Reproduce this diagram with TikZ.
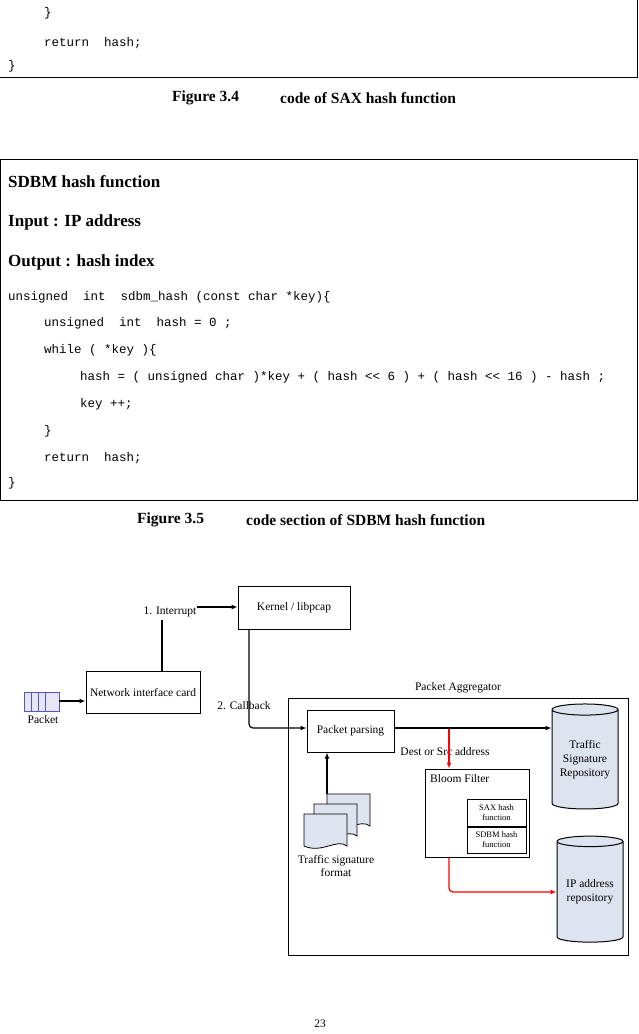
\documentclass[tikz,border=0pt]{standalone}
\usepackage{fontspec}
\setmainfont{Liberation Serif}
\setmonofont{Liberation Mono}
\usetikzlibrary{shapes.geometric,arrows.meta}
\definecolor{fillb}{HTML}{DDE3EF}
\definecolor{pk}{HTML}{5555BB}
\begin{document}
\begin{tikzpicture}[x=1pt,y=-1pt,
  code/.style={anchor=west,inner sep=0,font=\ttfamily\fontsize{12.5}{13}\selectfont},
  head/.style={anchor=west,inner sep=0,font=\bfseries\fontsize{17}{18}\selectfont},
  figcap/.style={anchor=west,inner sep=0,font=\bfseries\fontsize{15.5}{16}\selectfont},
  lbl/.style={inner sep=0,font=\fontsize{11.5}{13}\selectfont,align=center},
  small/.style={inner sep=0,font=\fontsize{8.5}{10}\selectfont,align=center},
  bx/.style={draw,line width=1pt},
  cyl/.style={draw,cylinder,shape border rotate=90,aspect=0.22,fill=fillb,line width=1pt,align=center,font=\fontsize{11.5}{14}\selectfont,inner sep=0},
  arr/.style={-{Latex[length=6pt,width=5pt]},line width=1.2pt},
  rarr/.style={-{Latex[length=6pt,width=5pt]},line width=1.2pt,red},
]
\useasboundingbox (0,0) rectangle (639,1034);
% top code box
\draw[line width=1pt] (0,77) -- (637,77) -- (637,-5);
\node[code] (t1) at (44,13) {\}};
\node[code] (t2) at (44,43) {return\ \ hash;};
\node[code] (t3) at (8,66) {\}};
\node[figcap] (c1a) at (172,98) {Figure 3.4};
\node[figcap] (c1b) at (280,98) {code of SAX hash function};
% second box
\draw[line width=1pt] (0,159) rectangle (637,500);
\node[head] (h1) at (8,182) {SDBM hash function};
\node[head] (h2) at (8,222) {Input : IP address};
\node[head] (h3) at (8,262) {Output : hash index};
\node[code] (l1) at (8,297) {unsigned\ \ int\ \ sdbm\_hash (const char *key)\{};
\node[code] (l2) at (44,323) {unsigned\ \ int\ \ hash = 0 ;};
\node[code] (l3) at (44,350) {while ( *key )\{};
\node[code] (l4) at (80,377) {hash = ( unsigned char )*key + ( hash << 6 ) + ( hash << 16 ) - hash ;};
\node[code] (l5) at (80,404) {key ++;};
\node[code] (l6) at (44,431) {\}};
\node[code] (l7) at (44,458) {return\ \ hash;};
\node[code] (l8) at (8,483) {\}};
\node[figcap] (c2a) at (137,520) {Figure 3.5};
\node[figcap] (c2b) at (246,520) {code section of SDBM hash function};
% diagram
\node[bx,minimum width=112,minimum height=43,lbl] (kern) at (294,607.5) {Kernel / libpcap};
\node[bx,minimum width=114,minimum height=42,lbl] (nic) at (143,692) {Network interface card};
% packet icon
\foreach \a/\b in {24/31,31/38,38/45,45/59}{\draw[pk,fill=pk!15,line width=1pt] (\a,692) rectangle (\b,711);}
\coordinate (pkt) at (59,701);
\node[lbl] (pktl) at (43,720) {Packet};
\draw[arr] (pkt) -- (nic.west |- pkt);
% interrupt
\node[lbl] (intl) at (170,612) {1. Interrupt};
\draw[line width=1.2pt] (nic.north -| 162,0) -- (162,620);
\draw[arr] (intl.east |- 0,607) -- (kern.west |- 0,607);
% aggregator
\draw[line width=1pt] (288,698) rectangle (628,955);
\node[lbl] (aggl) at (458,688) {Packet Aggregator};
\node[bx,minimum width=87,minimum height=42,lbl] (pp) at (350.5,731) {Packet parsing};
\node[lbl] (cbl) at (244,706) {2. Callback};
\draw[arr,rounded corners=4pt] (kern.south -| 249,0) -- (249,728) -- (pp.west |- 0,728);
\node[cyl,minimum width=66,minimum height=105] (tsr) at (585,759.5) {Traffic\\Signature\\Repository};
\node[cyl,minimum width=66,minimum height=106] (ipr) at (590,892) {IP address\\repository};
\draw[arr] (pp.east |- 0,728) -- (tsr.west |- 0,728);
\node[lbl] (dsl) at (445,752) {Dest or Src address};
\node[bx,minimum width=104,minimum height=88] (bf) at (477,813) {};
\node[lbl,anchor=west] (bfl) at (430,779) {Bloom Filter};
\node[bx,minimum width=59,minimum height=27,small] (sax) at (496.5,813) {SAX hash\\function};
\node[bx,minimum width=59,minimum height=26,small] (sdbm) at (496.5,840) {SDBM hash\\function};
\draw[rarr] (449,729) -- (bf.north -| 449,0);
\draw[rarr,rounded corners=4pt] (bf.south -| 449,0) -- (449,892) -- (ipr.west |- 0,892);
% documents
\foreach \dx/\dy in {23/0,10/10,0/20}{
 \draw[fill=fillb,line width=0.8pt] (304+\dx,794+\dy) -- (352+\dx-5,794+\dy) -- (352+\dx-5,826+\dy)
   .. controls (337+\dx,818+\dy) and (322+\dx,834+\dy) .. (304+\dx,826+\dy) -- cycle;}
\coordinate (docs) at (327,794);
\draw[arr] (docs) -- (pp.south -| docs);
\node[lbl] (tsf) at (336,866) {Traffic signature\\format};
\node[lbl] (pg) at (320,1024) {23};
\end{tikzpicture}
\end{document}
